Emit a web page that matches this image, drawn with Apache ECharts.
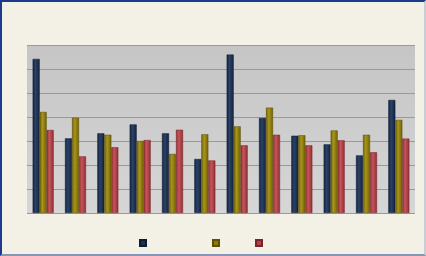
<!DOCTYPE html>
<html>
<head>
<meta charset="utf-8">
<script src="https://cdn.jsdelivr.net/npm/echarts@6/dist/echarts.min.js"></script>
<style>
html,body{margin:0;padding:0;background:#f3f1e6;}
#wrap{width:426px;height:256px;box-sizing:border-box;border:2px solid #1b3a8c;border-bottom-color:#8796b4;border-right-color:#c9cdd6;}
#chart{width:422px;height:252px;}
</style>
</head>
<body>
<div id="wrap"><div id="chart"></div></div>
<script>
const categories = ['1','2','3','4','5','6','7','8','9','10','11','12'];
const seriesNames = ['Series 1','Series 2','Series 3'];
const series1 = [6.42, 3.11, 3.32, 3.69, 3.32, 2.25, 6.60, 3.96, 3.22, 2.86, 2.40, 4.71];
const series2 = [4.21, 3.97, 3.26, 3.00, 2.46, 3.28, 3.61, 4.39, 3.24, 3.44, 3.26, 3.88];
const series3 = [3.46, 2.36, 2.74, 3.04, 3.47, 2.19, 2.82, 3.26, 2.82, 3.03, 2.53, 3.10];

function grad(dark, light){
  return new echarts.graphic.LinearGradient(0,0,1,0,[
    {offset:0,color:dark},{offset:0.4,color:light},{offset:1,color:dark}
  ]);
}
const styles = [
  {fill: grad('#13223c','#2a4268'), legend:'#1d3050', border:'#0f1b30'},
  {fill: grad('#6e5f05','#a8951a'), legend:'#8c7b0c', border:'#5c4f04'},
  {fill: grad('#8e2e33','#c4555b'), legend:'#b0434a', border:'#7a2328'}
];
const data = [series1, series2, series3];

const chart = echarts.init(document.getElementById('chart'));
chart.setOption({
  animation:false,
  backgroundColor:'#f3f1e6',
  grid:{left:25,right:9,top:43,bottom:41,show:true,
    backgroundColor:new echarts.graphic.LinearGradient(0,0,0,1,[{offset:0,color:'#c5c5c5'},{offset:1,color:'#d6d6d6'}]),
    borderWidth:0},
  xAxis:{type:'category',data:categories,axisLine:{show:false},axisTick:{show:false},axisLabel:{show:false}},
  yAxis:{type:'value',min:0,max:7,interval:1,axisLine:{show:false},axisTick:{show:false},axisLabel:{show:false},
    splitLine:{lineStyle:{color:'#9a9a9a',width:1}}},
  legend: seriesNames.map((n,i)=>({
    data:[{name:n,icon:'rect',itemStyle:{color:styles[i].legend}}],
    left:[137,210,253][i], top:237, padding:0, itemWidth:6, itemHeight:6,
    formatter:()=>'', textStyle:{fontSize:1}
  })),
  series: seriesNames.map((n,i)=>({
    name:n, type:'bar', data:data[i], barWidth:7, barGap:'0%',
    itemStyle:{color:styles[i].fill, borderColor:styles[i].border, borderWidth:0.5}
  }))
});
</script>
</body>
</html>
